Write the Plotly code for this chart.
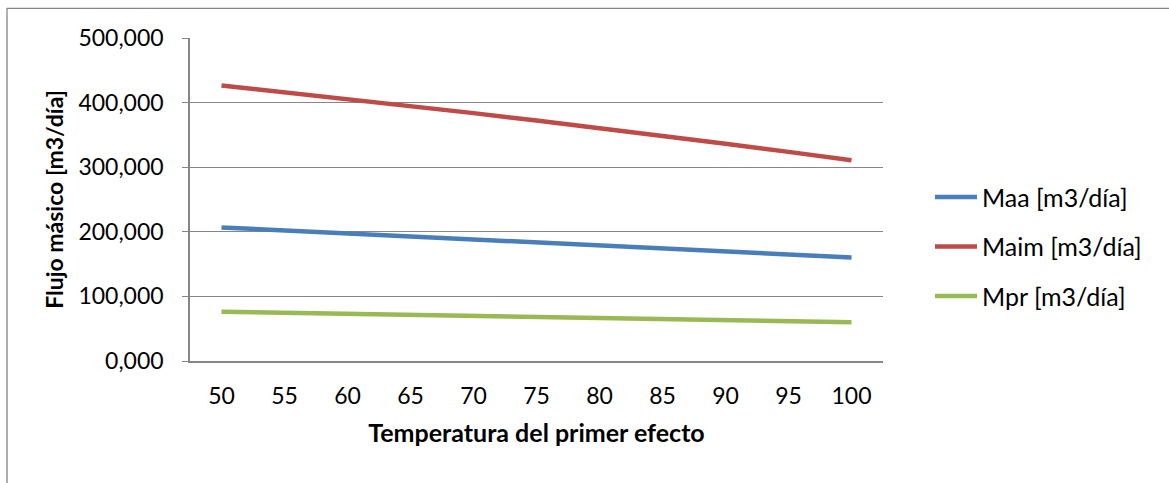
import plotly.graph_objects as go

# Temperatura del primer efecto (°C)
temperaturas = ["50", "55", "60", "65", "70", "75", "80", "85", "90", "95", "100"]

# Flujos másicos [m3/día]
maa = [206.8, 202.2, 197.6, 192.9, 188.2, 183.5, 178.9, 174.3, 169.6, 164.9, 160.2]
maim = [426.4, 416.1, 405.5, 394.8, 383.7, 372.3, 360.6, 348.6, 336.3, 323.7, 310.9]
mpr = [76.4, 74.8, 73.1, 71.5, 69.8, 68.2, 66.5, 64.9, 63.2, 61.6, 59.9]

y_ticks = [0, 100, 200, 300, 400, 500]

series = [
    ("Maa [m3/día]", maa, "#4A7EBB"),
    ("Maim [m3/día]", maim, "#BE4B48"),
    ("Mpr [m3/día]", mpr, "#98B954"),
]

FONT = "Lato, 'Open Sans', sans-serif"
GRID = "#868686"

fig = go.Figure()
for name, values, color in series:
    fig.add_trace(go.Scatter(
        x=temperaturas, y=values, name=name, mode="lines",
        legendgroup=name,
        line=dict(color=color, width=4.5),
    ))

fig.update_layout(
    width=1169, height=483,
    margin=dict(l=190, r=286, t=38, b=122),
    paper_bgcolor="white", plot_bgcolor="white",
    separators=",.",
    font=dict(family=FONT, size=23, color="#000000"),
    showlegend=True,
    legend=dict(
        x=(930 - 190) / 693, y=(361 - 247) / 322.5,
        xanchor="left", yanchor="middle",
        font=dict(family=FONT, size=25, color="#000000"),
        tracegroupgap=14, itemwidth=42,
        bgcolor="rgba(0,0,0,0)",
    ),
    xaxis=dict(
        type="category",
        range=[-0.5, 10.5],
        showgrid=False, zeroline=False,
        showline=True, linecolor=GRID, linewidth=1.5,
        ticks="", ticklabelstandoff=14,
        tickfont=dict(family=FONT, size=23),
        title=dict(text="<b>Temperatura del primer efecto</b>",
                   font=dict(family=FONT, size=25), standoff=16),
    ),
    yaxis=dict(
        range=[0, 500],
        tickvals=y_ticks, tickformat=".3f",
        showgrid=True, gridcolor=GRID, gridwidth=1.3,
        zeroline=False,
        showline=True, linecolor=GRID, linewidth=1.5,
        ticks="outside", ticklen=6, tickcolor=GRID, tickwidth=1.3,
        ticklabelstandoff=14,
        tickfont=dict(family=FONT, size=23),
        title=dict(text="<b>Flujo másico [m3/día]</b>",
                   font=dict(family=FONT, size=23), standoff=8),
    ),
)

# Marco exterior del gráfico
fig.add_shape(
    type="rect", xref="paper", yref="paper",
    x0=(7 - 190) / 693, x1=(1180 - 190) / 693,
    y0=(361 - 495) / 322.5, y1=(361 - 9) / 322.5,
    line=dict(color=GRID, width=1.3), fillcolor="rgba(0,0,0,0)",
    layer="below",
)

fig.write_html("out.html")
